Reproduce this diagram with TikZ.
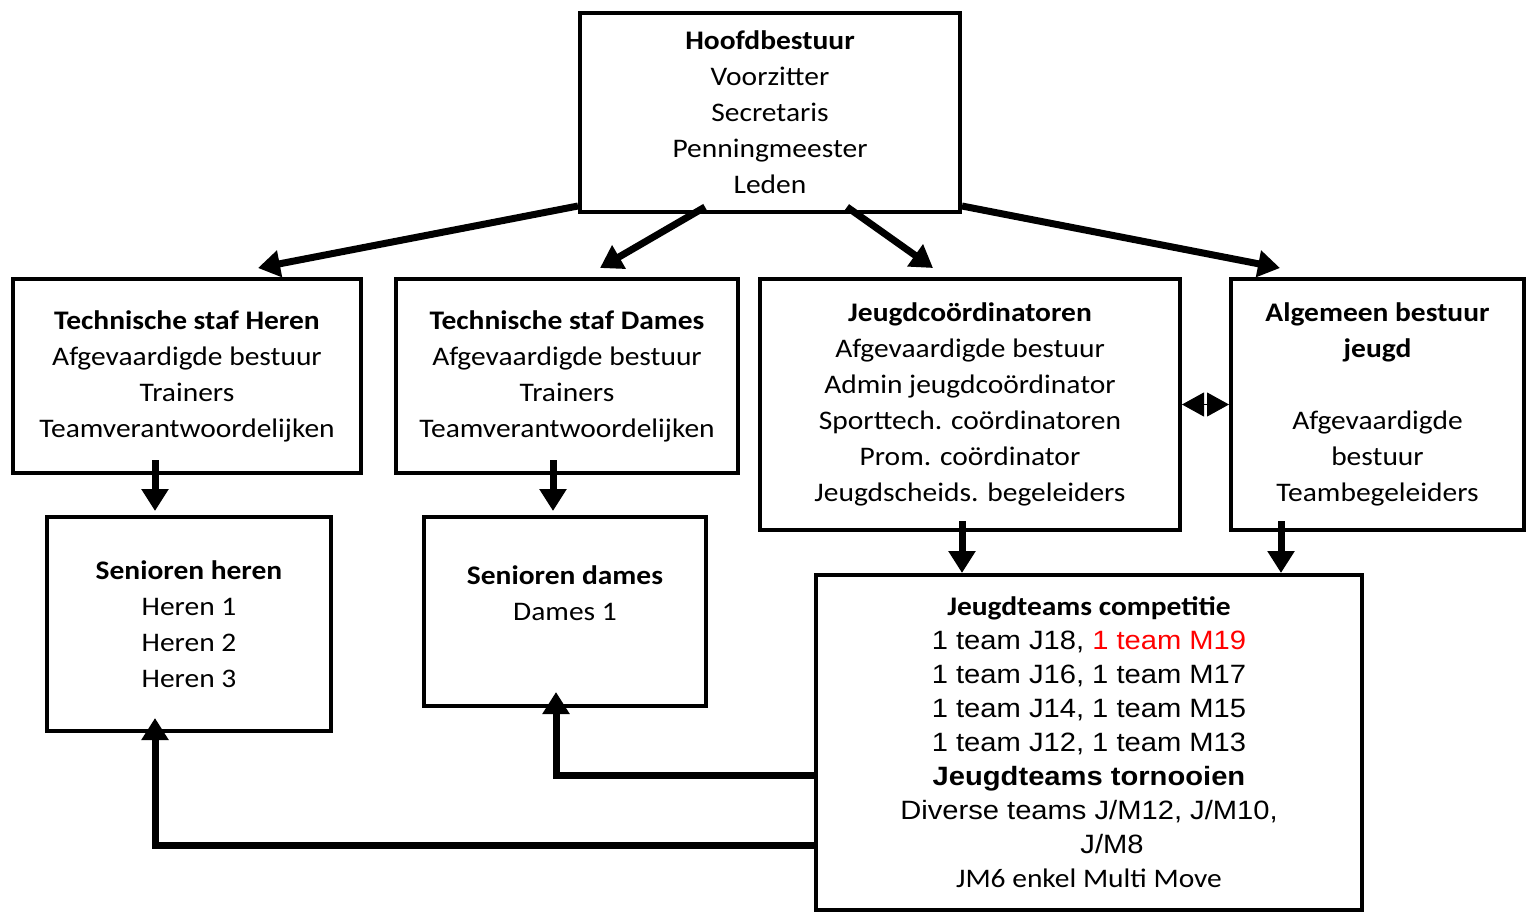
\documentclass[tikz,border=0pt]{standalone}
\usepackage{fontspec}
\setmainfont{Carlito}[FakeStretch=1.1]
\newfontfamily\arialf{Liberation Sans}[FakeStretch=1.1]
\usetikzlibrary{calc,arrows.meta}

\newcommand{\arl}{\arialf\fontsize{26.5}{34}\selectfont}

\tikzset{
  box/.style={draw, line width=4pt, align=center, inner sep=0pt,
    font=\fontsize{26.8}{36}\selectfont},
  arrow/.style={line width=7pt, -{Triangle[length=22pt,width=26pt]}},
  twoway/.style={line width=1pt, {Triangle[length=22pt,width=24pt]}-{Triangle[length=22pt,width=24pt]}}
}

\begin{document}
\begin{tikzpicture}[x=1pt,y=-1pt]

\useasboundingbox (0,0) rectangle (1529,913);

% Boxes
\node[box, minimum width=380pt, minimum height=199pt] (hoofd) at (770,112.5)
  {\textbf{Hoofdbestuur}\\Voorzitter\\Secretaris\\Penningmeester\\Leden};
\node[box, minimum width=348pt, minimum height=194pt] (herenstaf) at (187,376)
  {\textbf{Technische staf Heren}\\Afgevaardigde bestuur\\Trainers\\Teamverantwoordelijken};
\node[box, minimum width=342pt, minimum height=194pt] (damesstaf) at (567,376)
  {\textbf{Technische staf Dames}\\Afgevaardigde bestuur\\Trainers\\Teamverantwoordelijken};
\node[box, minimum width=420pt, minimum height=251pt] (jcoord) at (970,404.5)
  {\textbf{Jeugdcoördinatoren}\\Afgevaardigde bestuur\\Admin jeugdcoördinator\\Sporttech. coördinatoren\\Prom. coördinator\\Jeugdscheids. begeleiders};
\node[box, minimum width=293pt, minimum height=251pt] (algbest) at (1377.5,404.5)
  {\textbf{Algemeen bestuur}\\\textbf{jeugd}\\~\\Afgevaardigde\\bestuur\\Teambegeleiders};
\node[box, minimum width=284pt, minimum height=214pt] (senheren) at (189,624)
  {\textbf{Senioren heren}\\Heren 1\\Heren 2\\Heren 3};
\node[box, minimum width=282pt, minimum height=189pt] (sendames) at (565,611.5)
  {\textbf{Senioren dames}\\Dames 1\\~};
\node[box, minimum width=546pt, minimum height=335pt, font=\fontsize{26.8}{34}\selectfont] (jteams) at (1089,742.5)
  {\textbf{Jeugdteams competitie}\\
   {\arl 1 team J18, \textcolor{red}{1 team M19}}\\
   {\arl 1 team J16, 1 team M17}\\
   {\arl 1 team J14, 1 team M15}\\
   {\arl 1 team J12, 1 team M13}\\
   {\arl\bfseries Jeugdteams tornooien}\\
   {\arl Diverse teams J/M12, J/M10,}\\
   {\arl\hspace*{46pt}J/M8}\\
   JM6 enkel Multi Move};

% Arrows from Hoofdbestuur
\draw[arrow] ($(hoofd.south west)+(0,-8)$) -- ($(herenstaf.north)+(71,-9)$);
\draw[arrow] ($(hoofd.south)+(-65,-7)$) -- ($(damesstaf.north)+(33,-9)$);
\draw[arrow] ($(hoofd.south)+(77,-7)$) -- ($(jcoord.north)+(-37,-9)$);
\draw[arrow] ($(hoofd.south east)+(0,-8)$) -- ($(algbest.north)+(-97.5,-9)$);

% Down arrows
\draw[arrow] ($(herenstaf.south)+(-32,-15)$) -- ($(senheren.north)+(-34,-4)$);
\draw[arrow] ($(damesstaf.south)+(-14,-15)$) -- ($(sendames.north)+(-12,-4)$);
\draw[arrow] ($(jcoord.south)+(-8,-11)$) -- ($(jteams.north)+(-127,0)$);
\draw[arrow] ($(algbest.south)+(-96.5,-11)$) -- ($(jteams.north)+(192,0)$);

% Back to seniors
\draw[arrow] ($(jteams.west)+(0,32.5)$) -| ($(sendames.south)+(-9,-16)$);
\draw[arrow] ($(jteams.west)+(0,102.5)$) -| ($(senheren.south)+(-34,-15)$);

% Link between youth boards
\draw[twoway] (jcoord.east) -- (algbest.west);

\end{tikzpicture}
\end{document}
